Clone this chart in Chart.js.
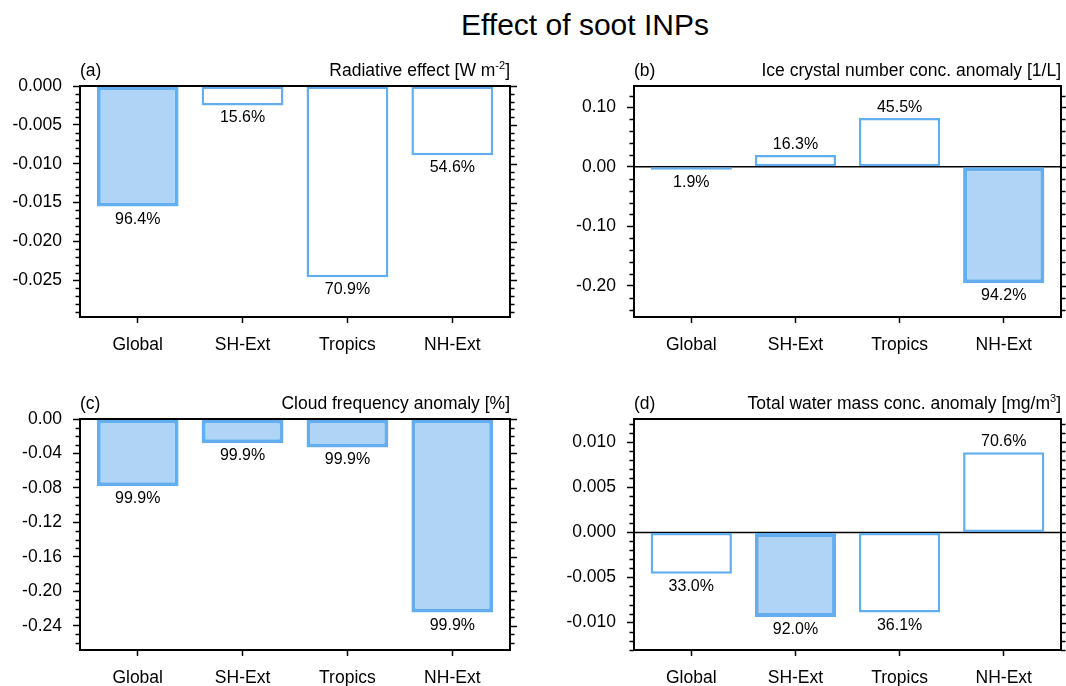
<!DOCTYPE html>
<html>
<head>
<meta charset="utf-8">
<script src="https://cdn.jsdelivr.net/npm/chart.js@4"></script>
<style>
  body { margin: 0; background: #fff; overflow: hidden; }
  #wrap { position: relative; width: 1066px; height: 686px; }
  #wrap canvas { position: absolute; left: 0; top: 0; }
  #title { position: absolute; left: 285px; top: 9.6px; width: 600px; text-align: center;
           font: 30px "Liberation Sans", Arial, sans-serif; line-height: 30px; color: #000; }
</style>
</head>
<body>
<div id="wrap">
  <div id="title">Effect of soot INPs</div>
  <canvas id="panelA" width="1066" height="686"></canvas>
  <canvas id="panelB" width="1066" height="686"></canvas>
  <canvas id="panelC" width="1066" height="686"></canvas>
  <canvas id="panelD" width="1066" height="686"></canvas>
</div>
<script>
const regions = ["Global", "SH-Ext", "Tropics", "NH-Ext"];
const regionPos = [1, 2, 3, 4];

// anomaly values and their significance (%)
const radEffect = [-0.0155, -0.0025, -0.0246, -0.0089];
const radSig = [96.4, 15.6, 70.9, 54.6];
const iceNumber = [-0.002, 0.020, 0.082, -0.196];
const iceSig = [1.9, 16.3, 45.5, 94.2];
const cloudFreq = [-0.078, -0.028, -0.033, -0.2245];
const cloudSig = [99.9, 99.9, 99.9, 99.9];
const waterMass = [-0.0046, -0.0094, -0.0089, 0.0089];
const waterSig = [33.0, 92.0, 36.1, 70.6];

// major y tick values
const radTicks = [0, -0.005, -0.010, -0.015, -0.020, -0.025];
const iceTicks = [0.10, 0, -0.10, -0.20];
const cloudTicks = [0, -0.04, -0.08, -0.12, -0.16, -0.20, -0.24];
const waterTicks = [0.010, 0.005, 0, -0.005, -0.010];

const FONT = '"Liberation Sans", Arial, sans-serif';
const EDGE = "rgb(99,174,238)";
const FILL = "rgb(175,212,245)";
const W = 1066, H = 686;
const YAXIS_W = 80, XAXIS_H = 50;

Chart.defaults.font.family = FONT;
Chart.defaults.color = "#000";

const panelDeco = {
  id: "panelDeco",
  beforeDatasetsDraw(chart, args, opts) {
    const { ctx, chartArea: a } = chart;
    const y = chart.scales.y;
    if (y.min < 0 && y.max > 0) {
      const z = y.getPixelForValue(0);
      ctx.save();
      ctx.strokeStyle = "#000";
      ctx.lineWidth = 1.5;
      ctx.beginPath();
      ctx.moveTo(a.left, z);
      ctx.lineTo(a.right, z);
      ctx.stroke();
      ctx.restore();
    }
  },
  afterDatasetsDraw(chart, args, opts) {
    const { ctx, chartArea: a } = chart;
    const y = chart.scales.y;
    ctx.save();
    ctx.strokeStyle = "#000";
    ctx.lineWidth = 2;
    ctx.strokeRect(a.left, a.top, a.right - a.left, a.bottom - a.top);

    // minor ticks on the left, all ticks on the right
    ctx.lineWidth = 1.5;
    const step = opts.minorStep;
    const k0 = Math.ceil(y.min / step - 1e-6), k1 = Math.floor(y.max / step + 1e-6);
    for (let k = k0; k <= k1; k++) {
      const v = k * step;
      const isMajor = opts.majors.some(m => Math.abs(m - v) < step * 1e-3);
      const py = Math.round(y.getPixelForValue(v)) + 0.5;
      ctx.beginPath();
      if (!isMajor) {
        ctx.moveTo(a.left, py);
        ctx.lineTo(a.left - 4.5, py);
      }
      ctx.moveTo(a.right, py);
      ctx.lineTo(a.right + (isMajor ? 7 : 4.5), py);
      ctx.stroke();
    }

    // significance labels
    ctx.fillStyle = "#000";
    ctx.font = "16px " + FONT;
    ctx.textAlign = "center";
    ctx.textBaseline = "alphabetic";
    const meta = chart.getDatasetMeta(0);
    const vals = chart.data.datasets[0].data;
    meta.data.forEach((el, i) => {
      const txt = opts.sig[i].toFixed(1) + "%";
      const ty = vals[i].y < 0 ? el.y + 17 : el.y - 6;
      ctx.fillText(txt, el.x, ty);
    });

    // panel tag and right title
    const base = a.top - 10;
    ctx.font = "17.5px " + FONT;
    ctx.textAlign = "left";
    ctx.fillText(opts.tag, a.left, base);
    const fonts = opts.titleParts.map(p => (p.sup ? "11px " : "17.5px ") + FONT);
    let total = 0;
    opts.titleParts.forEach((p, i) => { ctx.font = fonts[i]; total += ctx.measureText(p.t).width; });
    let x = a.right - total;
    opts.titleParts.forEach((p, i) => {
      ctx.font = fonts[i];
      ctx.fillText(p.t, x, p.sup ? base - 7 : base);
      x += ctx.measureText(p.t).width;
    });
    ctx.restore();
  }
};
Chart.register(panelDeco);

function makePanel(id, box, values, sig, majors, yMin, yMax, minorStep, decimals, tag, titleParts) {
  const [left, top, right, bottom] = box;
  return new Chart(document.getElementById(id), {
    type: "bar",
    data: {
      datasets: [{
        data: values.map((v, i) => ({ x: regionPos[i], y: v })),
        backgroundColor: sig.map(s => s >= 90 ? FILL : "#ffffff"),
        borderColor: EDGE,
        borderWidth: sig.map(s => s >= 90 ? 4 : 2.5),
        borderSkipped: false,
        minBarLength: 3,
        barPercentage: 0.78,
        categoryPercentage: 1
      }]
    },
    options: {
      responsive: false,
      animation: false,
      layout: {
        padding: { left: left - YAXIS_W, top: top, right: W - right, bottom: H - bottom - XAXIS_H }
      },
      scales: {
        x: {
          type: "linear",
          min: 0.45,
          max: 4.55,
          offset: false,
          afterBuildTicks: s => { s.ticks = regionPos.map(v => ({ value: v })); },
          afterFit: s => { s.height = XAXIS_H; },
          border: { display: false },
          grid: { offset: false, drawOnChartArea: false, tickLength: 6, tickWidth: 1.5, tickColor: "#000" },
          ticks: {
            padding: 12,
            autoSkip: false,
            maxRotation: 0,
            font: { size: 17.5 },
            color: "#000",
            callback: v => regions[regionPos.indexOf(v)]
          }
        },
        y: {
          min: yMin,
          max: yMax,
          afterBuildTicks: s => { s.ticks = majors.map(v => ({ value: v })); },
          afterFit: s => { s.width = YAXIS_W; },
          border: { display: false },
          grid: { drawOnChartArea: false, tickLength: 7, tickWidth: 1.5, tickColor: "#000" },
          ticks: {
            padding: 11,
            font: { size: 17.5 },
            color: "#000",
            callback: v => Math.abs(v) < 1e-12 ? (0).toFixed(decimals) : v.toFixed(decimals)
          }
        }
      },
      plugins: {
        legend: { display: false },
        tooltip: { enabled: false },
        panelDeco: { sig: sig, majors: majors, minorStep: minorStep, tag: tag, titleParts: titleParts }
      }
    }
  });
}

makePanel("panelA", [80, 86, 510, 317], radEffect, radSig, radTicks, -0.0297, 0, 0.001, 3, "(a)",
  [{ t: "Radiative effect [W m" }, { t: "-2", sup: true }, { t: "]" }]);
makePanel("panelB", [634, 86, 1061, 317], iceNumber, iceSig, iceTicks, -0.2526, 0.136, 0.02, 2, "(b)",
  [{ t: "Ice crystal number conc. anomaly [1/L]" }]);
makePanel("panelC", [80, 419, 510, 650], cloudFreq, cloudSig, cloudTicks, -0.268, 0, 0.01, 2, "(c)",
  [{ t: "Cloud frequency anomaly [%]" }]);
makePanel("panelD", [634, 419, 1061, 650], waterMass, waterSig, waterTicks, -0.01305, 0.01259, 0.001, 3, "(d)",
  [{ t: "Total water mass conc. anomaly [mg/m" }, { t: "3", sup: true }, { t: "]" }]);
</script>
</body>
</html>
